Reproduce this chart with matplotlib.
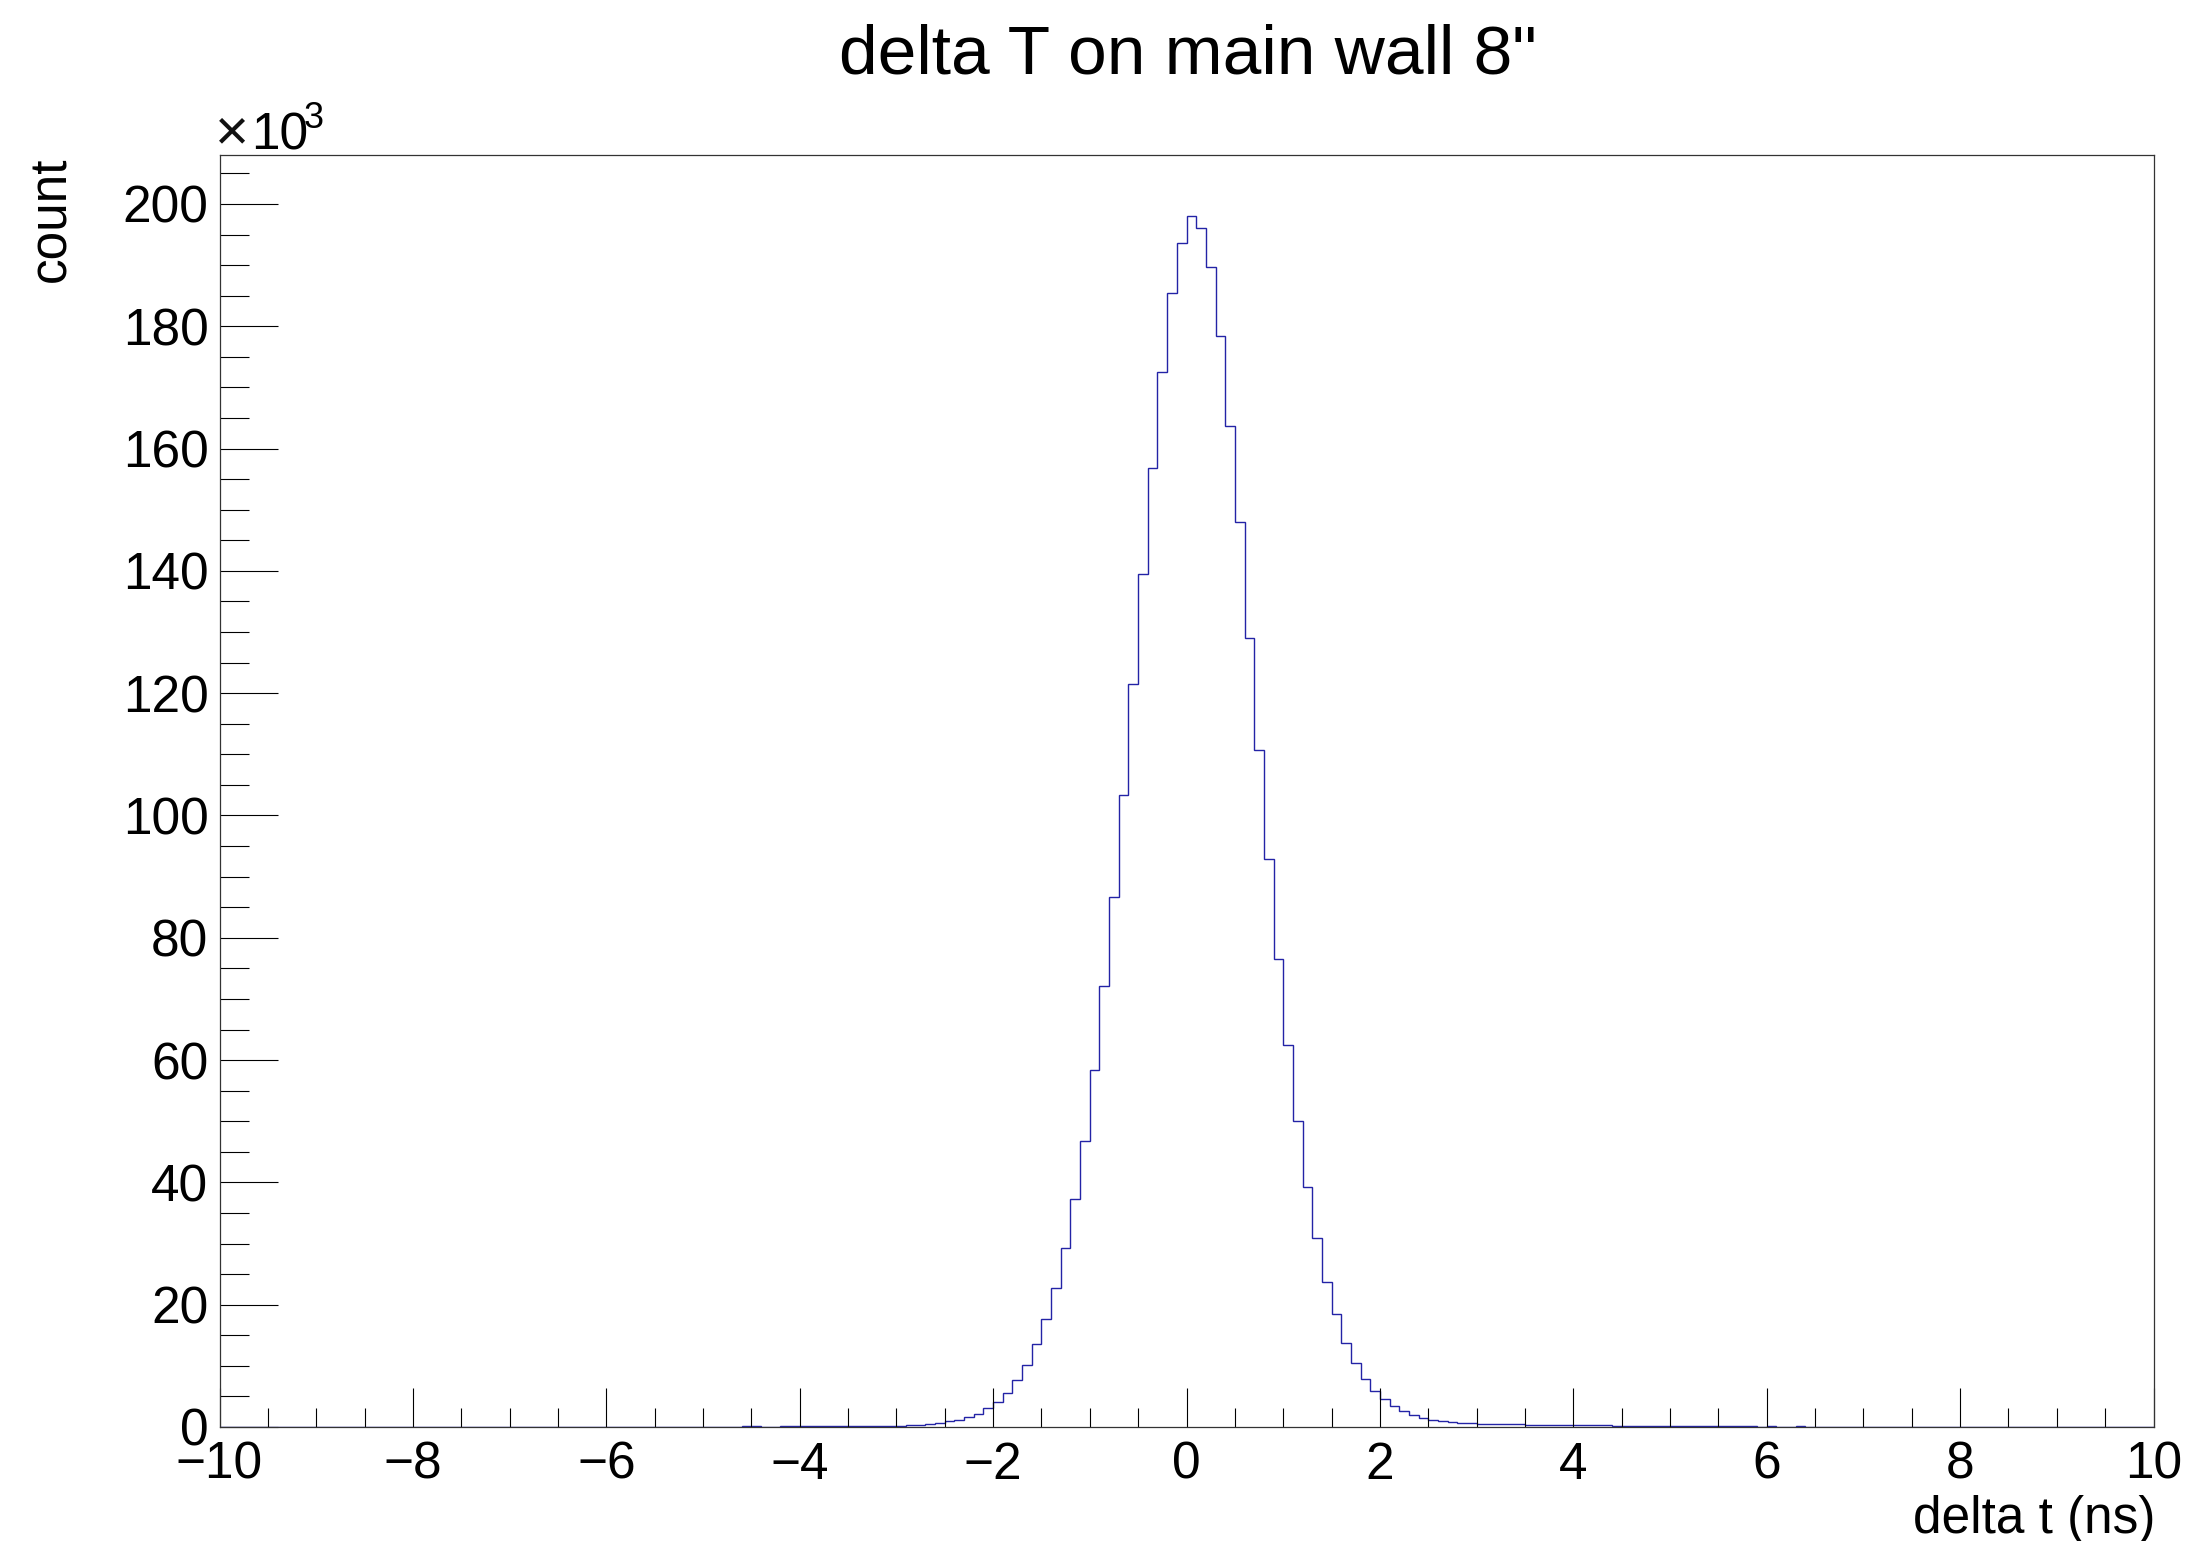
import numpy as np
import matplotlib
matplotlib.use("Agg")
import matplotlib.pyplot as plt
from matplotlib.ticker import MultipleLocator

plt.rcParams['font.family'] = ['Liberation Sans', 'DejaVu Sans']

# histogram: 0.1 ns bins from -10 to 10 ns, counts in units of 1e3
x_min, x_max, bin_w = -10.0, 10.0, 0.1
filled_from = -4.6   # left edge of first listed bin
counts_k = [
    0.10, 0.10, 0.0, 0.0,                                              # -4.6 .. -4.2
    0.10, 0.10, 0.11, 0.11, 0.12, 0.12, 0.13, 0.13, 0.14, 0.14, 0.15, 0.16,  # -4.2 .. -3.0
    0.20, 0.28, 0.35, 0.49, 0.65, 0.93,                                # -3.0 .. -2.4
    1.2, 1.6, 2.16, 3.03, 4.05, 5.6, 7.7, 10.2, 13.5, 17.7,            # -2.4 .. -1.4
    22.8, 29.3, 37.3, 46.7, 58.4, 72.1, 86.7, 103.3, 121.5, 139.5,     # -1.4 .. -0.4
    156.8, 172.5, 185.4, 193.6,                                        # -0.4 .. 0.0
    198.0, 196.1, 189.7, 178.4, 163.7, 148.0, 129.1, 110.7, 92.9, 76.6,  # 0.0 .. 1.0
    62.5, 50.1, 39.2, 30.9, 23.7, 18.4, 13.7, 10.5, 7.85, 5.95,        # 1.0 .. 2.0
    4.5, 3.4, 2.6, 1.96, 1.47, 1.2, 0.93, 0.76, 0.62, 0.58,            # 2.0 .. 3.0
    0.55, 0.53, 0.51, 0.48,                                            # 3.0 .. 3.4
    0.42, 0.40, 0.39, 0.38, 0.37, 0.36, 0.35, 0.34, 0.33, 0.32,        # 3.4 .. 4.4
    0.18, 0.17, 0.17, 0.16, 0.16, 0.15, 0.15, 0.14, 0.14, 0.13,        # 4.4 .. 5.4
    0.13, 0.12, 0.12, 0.11, 0.11,                                      # 5.4 .. 5.9
    0.0, 0.10, 0.0, 0.0, 0.10,                                         # 5.9 .. 6.4
]

n_bins = int(round((x_max - x_min) / bin_w))
edges = np.linspace(x_min, x_max, n_bins + 1)
hist = np.zeros(n_bins)
start = int(round((filled_from - x_min) / bin_w))
hist[start:start + len(counts_k)] = counts_k

W, H = 2197, 1541
fig = plt.figure(figsize=(W / 100, H / 100), dpi=100)
ax = fig.add_axes([219.5 / W, 1 - 1427 / H, (2153.5 - 219.5) / W, (1427 - 155) / H])

ax.stairs(hist, edges, color='#2323a6', linewidth=1.0)

ax.set_xlim(x_min, x_max)
ax.set_ylim(0, 208.0)

ax.xaxis.set_major_locator(MultipleLocator(2))
ax.xaxis.set_minor_locator(MultipleLocator(0.5))
ax.yaxis.set_major_locator(MultipleLocator(20))
ax.yaxis.set_minor_locator(MultipleLocator(5))

ax.tick_params(axis='x', which='major', direction='in', length=28, width=0.8,
               labelsize=37, pad=10, top=False)
ax.tick_params(axis='x', which='minor', direction='in', length=14, width=0.8, top=False)
ax.tick_params(axis='y', which='major', direction='in', length=42, width=0.8,
               labelsize=37, pad=8, right=False)
ax.tick_params(axis='y', which='minor', direction='in', length=21, width=0.8, right=False)
for s in ax.spines.values():
    s.set_linewidth(0.9)
    s.set_color('#333333')

fig.text(1187.5 / W, 1 - 73 / H, 'delta T on main wall 8"', fontsize=50,
         ha='center', va='baseline')
fig.text(2155 / W, 1 - 1533 / H, 'delta t (ns)', fontsize=37, ha='right', va='baseline')
fig.text(52 / W, 1 - 157 / H, 'count', fontsize=37, rotation=90, ha='center', va='top')
fig.text(215 / W, 1 - 149 / H, '\u00d7', fontsize=42, ha='left', va='baseline',
         color='#111111')
fig.text(251 / W, 1 - 150 / H, '10', fontsize=37, ha='left', va='baseline')
fig.text(304 / W, 1 - 128 / H, '3', fontsize=26, ha='left', va='baseline')

fig.savefig('out.png', dpi=100)
